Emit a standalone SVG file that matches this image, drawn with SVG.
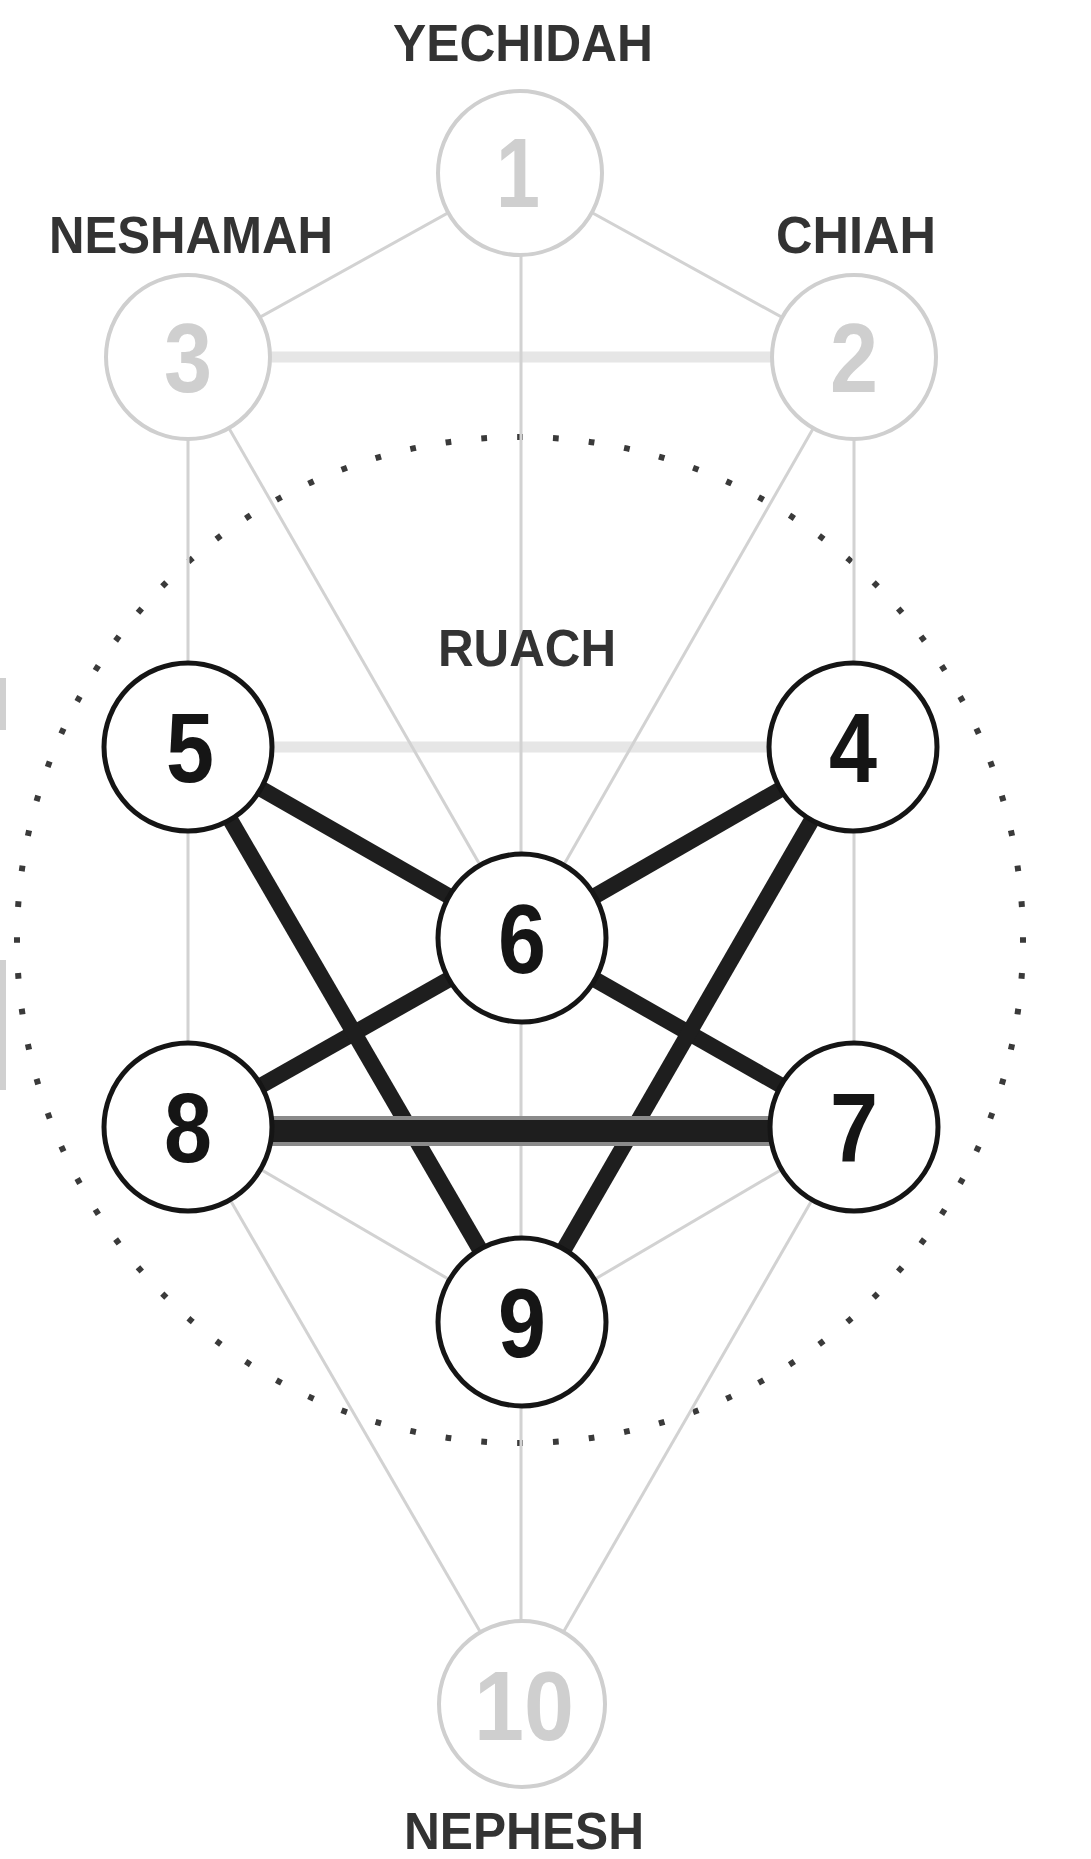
<svg xmlns="http://www.w3.org/2000/svg" width="1091" height="1859" viewBox="0 0 1091 1859">
<style>
.lt{stroke:#d2d2d2;stroke-width:3;fill:none}
.lw{stroke:#e6e6e6;stroke-width:11;fill:none}
.dk{stroke:#1e1e1e;stroke-width:16;fill:none;stroke-linecap:butt}
.cl{fill:#fff;stroke:#cfcfcf;stroke-width:4}
.cd{fill:#fff;stroke:#151515;stroke-width:5}
.nl{font-family:"Liberation Sans",Arial,sans-serif;font-weight:bold;font-size:98px;text-anchor:middle;fill:#cfcfcf}
.nd{font-family:"Liberation Sans",Arial,sans-serif;font-weight:bold;font-size:98px;text-anchor:middle;fill:#151515}
.lb{font-family:"Liberation Sans",Arial,sans-serif;font-weight:bold;font-size:52px;text-anchor:middle;fill:#333}
</style>
<rect width="1091" height="1859" fill="#fff"/>
<rect x="0" y="678" width="6" height="52" fill="#d0d0d0"/>
<rect x="0" y="960" width="6" height="130" fill="#d0d0d0"/>
<g id="ruach-circle">
<circle cx="520" cy="940" r="503" fill="none" stroke="#3a3a3a" stroke-width="6" pathLength="88" stroke-dasharray="0.16 0.84" stroke-dashoffset="0.08"/>
</g>
<g id="connectors">
<line class="lw" x1="188" y1="357" x2="854" y2="357" stroke="#ededed"/>
<line class="lw" x1="188" y1="747" x2="854" y2="747"/>
<line class="lt" x1="520" y1="173" x2="188" y2="357"/>
<line class="lt" x1="520" y1="173" x2="854" y2="357"/>
<line class="lt" x1="521" y1="173" x2="521" y2="1704"/>
<line class="lt" x1="188" y1="357" x2="188" y2="1127"/>
<line class="lt" x1="854" y1="357" x2="854" y2="1127"/>
<line class="lt" x1="188" y1="357" x2="522" y2="938"/>
<line class="lt" x1="854" y1="357" x2="522" y2="938"/>
<line class="lt" x1="188" y1="1127" x2="522" y2="1322"/>
<line class="lt" x1="854" y1="1127" x2="522" y2="1322"/>
<line class="lt" x1="188" y1="1127" x2="522" y2="1704"/>
<line class="lt" x1="854" y1="1127" x2="522" y2="1704"/>
<line class="dk" x1="188" y1="747" x2="522" y2="938"/>
<line class="dk" x1="854" y1="747" x2="522" y2="938"/>
<line class="dk" x1="188" y1="1127" x2="522" y2="938"/>
<line class="dk" x1="854" y1="1127" x2="522" y2="938"/>
<line class="dk" x1="188" y1="747" x2="522" y2="1322"/>
<line class="dk" x1="854" y1="747" x2="522" y2="1322"/>
<line x1="188" y1="1131" x2="854" y2="1131" stroke="#8a8a8a" stroke-width="30"/>
<line x1="188" y1="1131" x2="854" y2="1131" stroke="#1e1e1e" stroke-width="22"/>
</g>
<g id="node-1"><circle class="cl" cx="520" cy="173" r="82"/><text class="nl" x="518" y="207" textLength="44" lengthAdjust="spacingAndGlyphs">1</text></g>
<g id="node-2"><circle class="cl" cx="854" cy="357" r="82"/><text class="nl" x="854" y="392" textLength="48" lengthAdjust="spacingAndGlyphs">2</text></g>
<g id="node-3"><circle class="cl" cx="188" cy="357" r="82"/><text class="nl" x="188" y="392" textLength="48" lengthAdjust="spacingAndGlyphs">3</text></g>
<g id="node-4"><circle class="cd" cx="853" cy="747" r="84"/><text class="nd" x="853" y="782" textLength="48" lengthAdjust="spacingAndGlyphs">4</text></g>
<g id="node-5"><circle class="cd" cx="188" cy="747" r="84"/><text class="nd" x="190" y="782" textLength="48" lengthAdjust="spacingAndGlyphs">5</text></g>
<g id="node-6"><circle class="cd" cx="522" cy="938" r="84"/><text class="nd" x="522" y="973" textLength="48" lengthAdjust="spacingAndGlyphs">6</text></g>
<g id="node-7"><circle class="cd" cx="854" cy="1127" r="84"/><text class="nd" x="854" y="1162" textLength="48" lengthAdjust="spacingAndGlyphs">7</text></g>
<g id="node-8"><circle class="cd" cx="188" cy="1127" r="84"/><text class="nd" x="188" y="1162" textLength="48" lengthAdjust="spacingAndGlyphs">8</text></g>
<g id="node-9"><circle class="cd" cx="522" cy="1322" r="84"/><text class="nd" x="522" y="1357" textLength="48" lengthAdjust="spacingAndGlyphs">9</text></g>
<g id="node-10"><circle class="cl" cx="522" cy="1704" r="83"/><text class="nl" x="524" y="1740" textLength="100" lengthAdjust="spacingAndGlyphs">10</text></g>
<g id="labels">
<text class="lb" x="523" y="61" textLength="260" lengthAdjust="spacingAndGlyphs">YECHIDAH</text>
<text class="lb" x="191" y="253" textLength="284" lengthAdjust="spacingAndGlyphs">NESHAMAH</text>
<text class="lb" x="856" y="253" textLength="160" lengthAdjust="spacingAndGlyphs">CHIAH</text>
<text class="lb" x="527" y="666" textLength="178" lengthAdjust="spacingAndGlyphs">RUACH</text>
<text class="lb" x="524" y="1849" textLength="240" lengthAdjust="spacingAndGlyphs">NEPHESH</text>
</g>
</svg>
